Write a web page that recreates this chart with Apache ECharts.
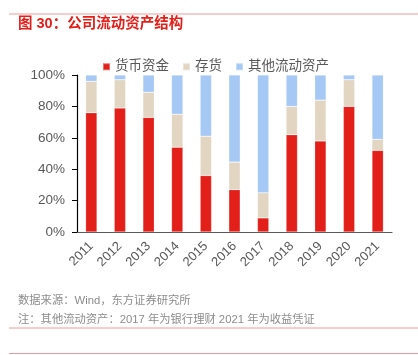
<!DOCTYPE html>
<html><head><meta charset="utf-8">
<script src="https://cdn.jsdelivr.net/npm/echarts@6/dist/echarts.min.js"></script>
<style>html,body{margin:0;padding:0;background:#fff}#c{width:418px;height:355px}</style>
</head><body><div id="c"></div>
<script>
var categories = ['2011','2012','2013','2014','2015','2016','2017','2018','2019','2020','2021'];
var cash = [76, 79, 73, 54, 36, 27, 9, 62, 58, 80, 52];
var inventory = [20, 18, 16, 21, 25, 17.5, 16, 18, 26, 17, 7];
var otherCurrent = [4, 3, 11, 25, 39, 55.5, 75, 20, 16, 3, 41];
var yTicks = [0, 20, 40, 60, 80, 100];
var seriesNames = ['货币资金', '存货', '其他流动资产'];
var titleText = '图 30：公司流动资产结构';
var sourceText = '数据来源：Wind，东方证券研究所';
var noteText = '注：其他流动资产：2017 年为银行理财 2021 年为收益凭证';

var chart = echarts.init(document.getElementById('c'));
var font = 'Arial, "Liberation Sans", "Noto Sans CJK SC", sans-serif';
function bar(name, data, color) {
  return {name: name, type: 'bar', stack: 'a', data: data, barWidth: '40%',
    itemStyle: {color: color, borderColor: 'rgba(255,255,255,0.35)', borderWidth: 0.6},
    emphasis: {disabled: true}};
}
chart.setOption({
  animation: false,
  textStyle: {fontFamily: font},
  legend: {
    top: 55, left: 97, itemWidth: 7, itemHeight: 7, itemGap: 13,
    icon: 'rect',
    textStyle: {color: '#595959', fontSize: 13.5, fontFamily: font},
    data: seriesNames
  },
  grid: {left: 77, right: 26, top: 75, bottom: 123},
  xAxis: {
    type: 'category', data: categories,
    axisLine: {lineStyle: {color: '#595959', width: 1.2}},
    axisTick: {show: false},
    axisLabel: {rotate: 45, color: '#595959', fontSize: 13, margin: 12, fontFamily: font}
  },
  yAxis: {
    type: 'value', min: 0, max: 100, interval: 20,
    axisLine: {show: true, lineStyle: {color: '#000', width: 1.2}},
    axisTick: {show: true, inside: false, length: 5, lineStyle: {color: '#000'}},
    splitLine: {show: false},
    axisLabel: {color: '#595959', fontSize: 13.5, margin: 12, fontFamily: font,
      formatter: function (v) { return yTicks.indexOf(v) >= 0 ? v + '%' : ''; }}
  },
  series: [
    bar(seriesNames[0], cash, '#E31F1A'),
    bar(seriesNames[1], inventory, '#E2D5C2'),
    bar(seriesNames[2], otherCurrent, '#A5C8F5')
  ],
  graphic: [
    {type: 'line', shape: {x1: 9, y1: 14, x2: 418, y2: 14}, style: {stroke: '#EE9A9A', lineWidth: 1}},
    {type: 'text', left: 18, top: 17, style: {text: titleText, fill: '#E31F1A', font: 'bold 14.5px ' + font}},
    {type: 'text', left: 18, top: 295, style: {text: sourceText, fill: '#8C8C8C', font: '11.3px ' + font}},
    {type: 'text', left: 18, top: 314, style: {text: noteText, fill: '#8C8C8C', font: '11.3px ' + font}},
    {type: 'line', shape: {x1: 9, y1: 328, x2: 418, y2: 328}, style: {stroke: '#EE9A9A', lineWidth: 1}},
    {type: 'line', shape: {x1: 9, y1: 353.5, x2: 418, y2: 353.5}, style: {stroke: '#EE9A9A', lineWidth: 1}}
  ]
});
</script></body></html>
